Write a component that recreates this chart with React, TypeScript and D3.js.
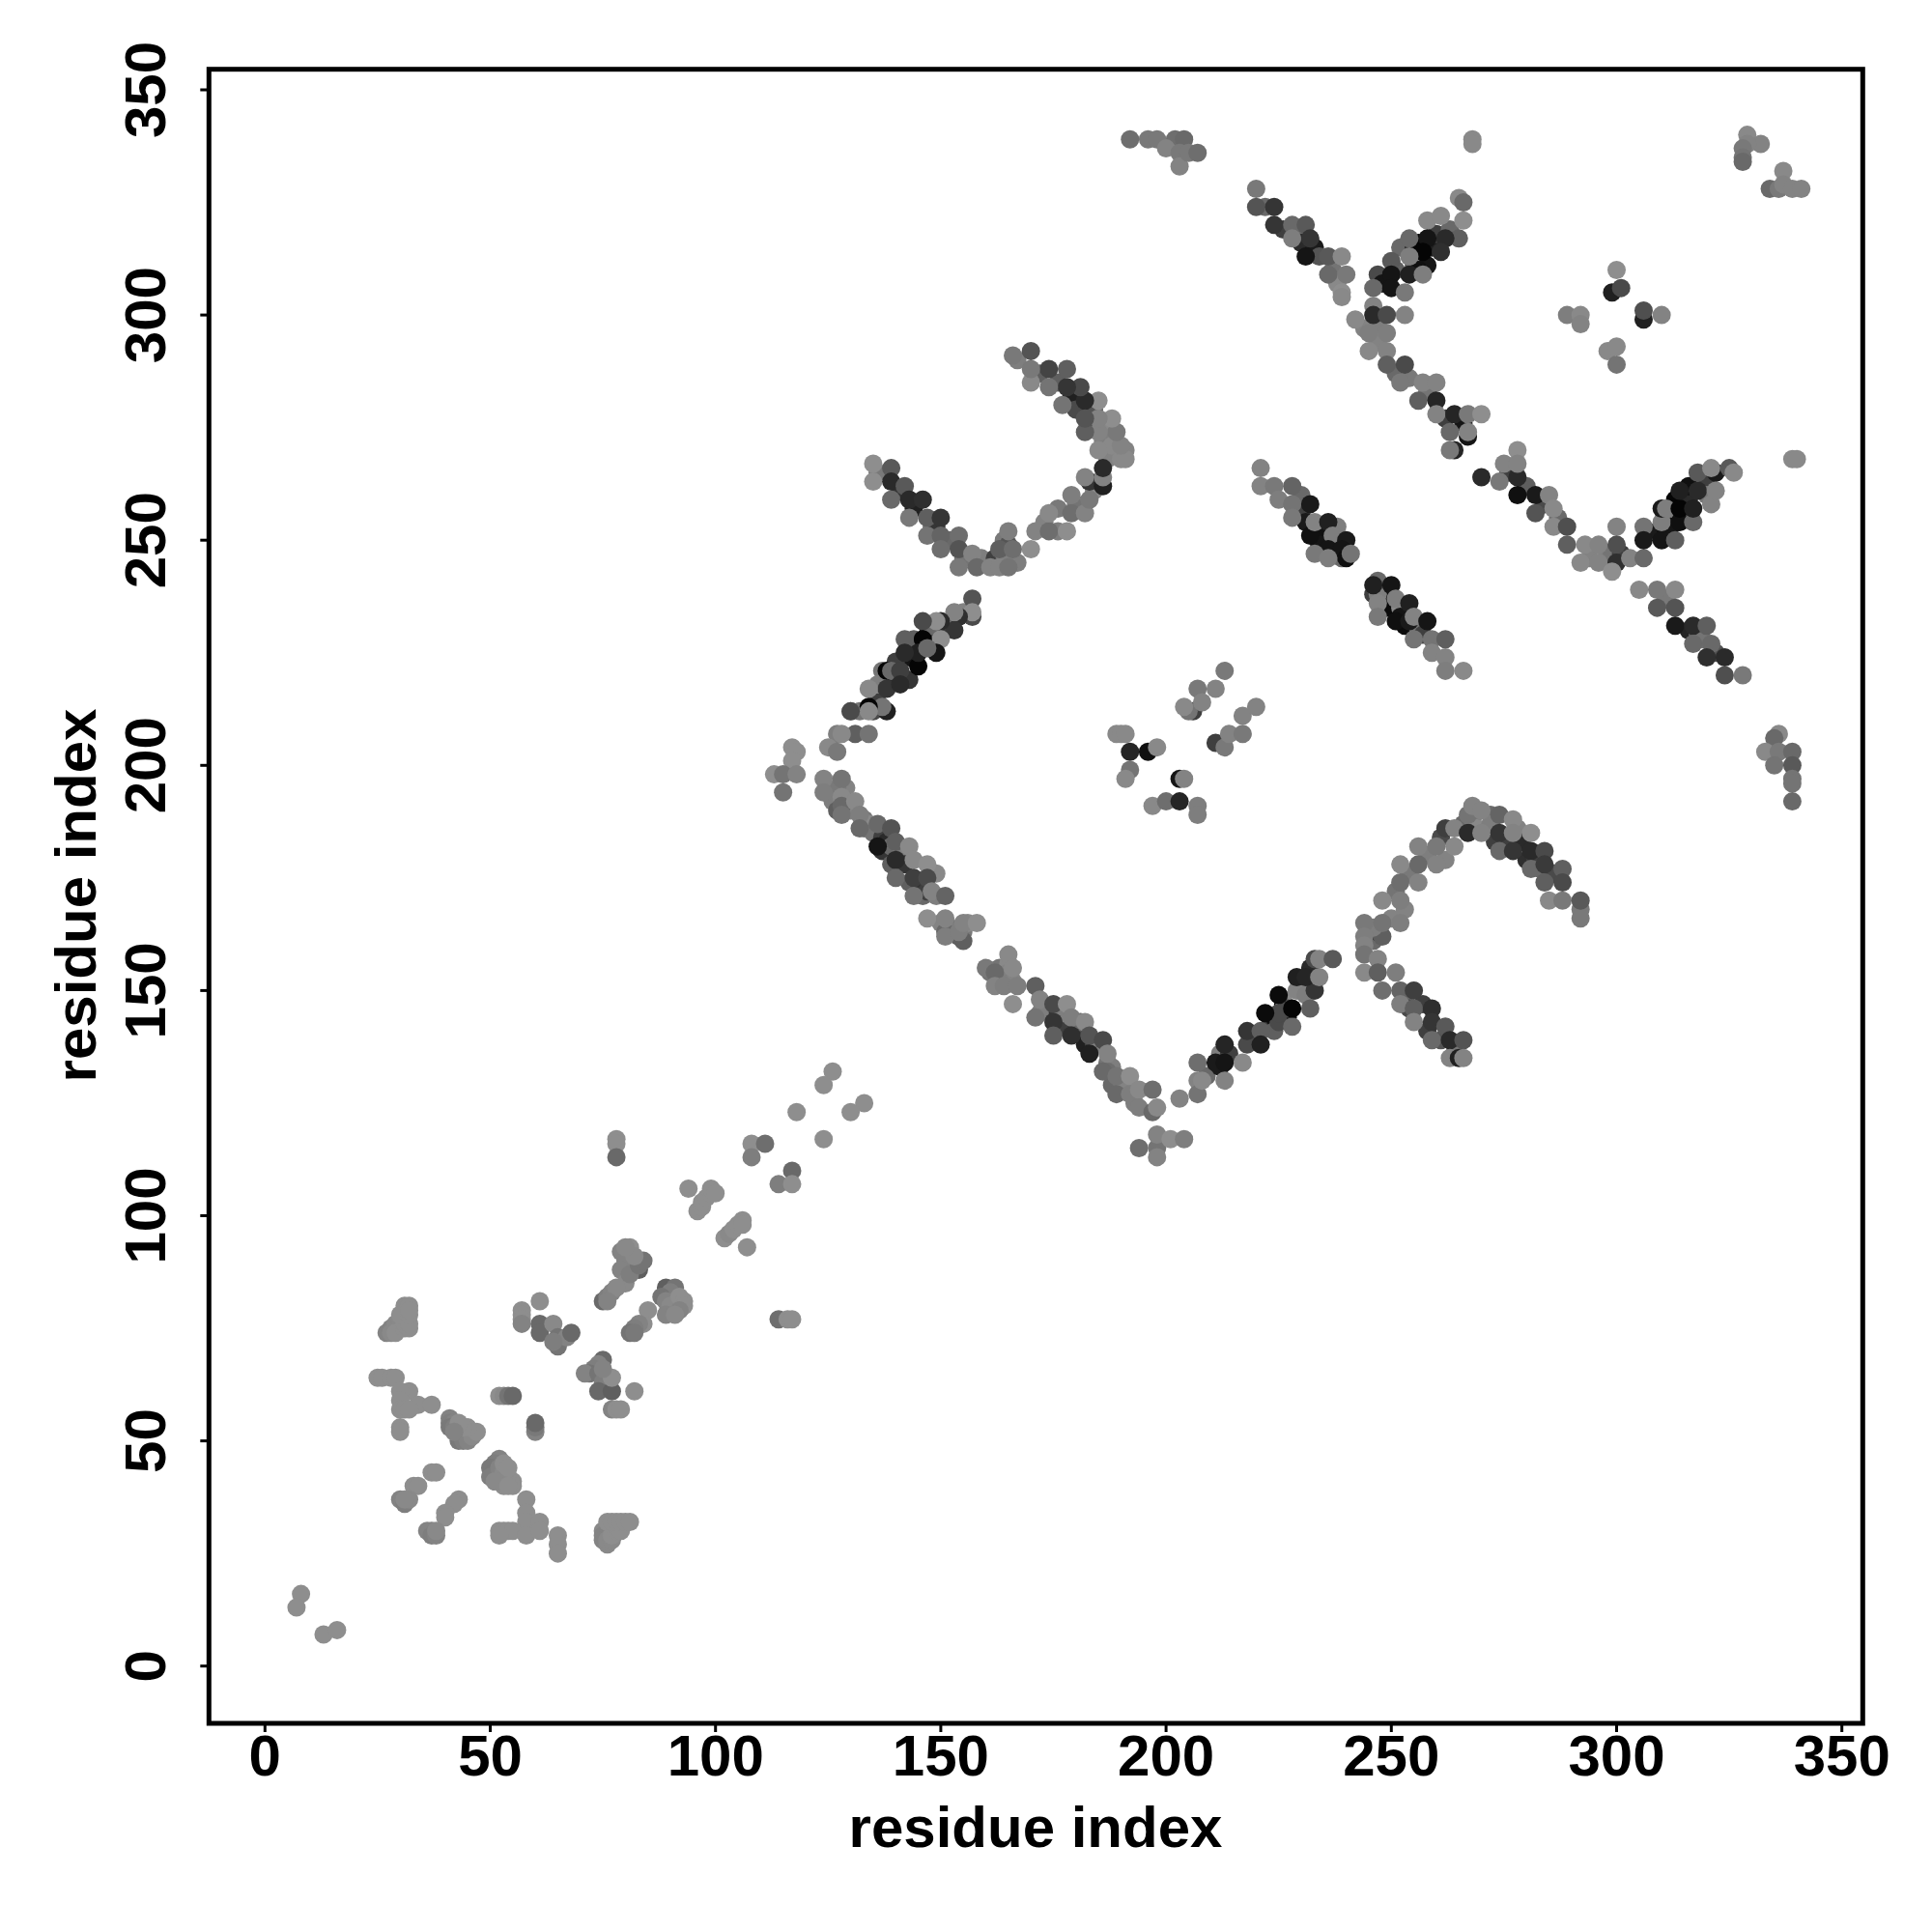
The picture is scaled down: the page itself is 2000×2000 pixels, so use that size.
import React from "react";
import * as d3 from "d3";

type Contact = [number, number, number]; // residue i, residue j, shade

const tickValues = [0, 50, 100, 150, 200, 250, 300, 350];
const axisTitle = "residue index";

const nTerminal: Contact[] = [[8,16,135],[7,13,135],[13,7,135],[16,8,135]];
const lowerCluster: Contact[] = [
[27,74,125],[28,75,125],[29,75,130],[29,76,130],[30,76,130],[30,77,130],[28,74,130],[29,74,135],[31,75,135],[31,76,135],[31,78,135],[31,79,135],[31,80,135],[30,78,135],[32,75,135],[32,76,135],[32,78,135],[32,80,135],[32,79,135],
[25,64,135],[26,64,135],[28,64,135],[29,64,135],[32,61,135],[30,61,135],[30,59,135],[30,57,135],[31,57,135],[34,58,135],[37,58,135],[30,53,135],[30,52,135],[32,57,135],
[41,55,125],[41,54,120],[42,54,125],[41,53,115],[42,53,120],[43,52,120],[44,51,125],[43,50,115],[44,50,120],[45,50,125],[46,51,130],[47,52,135],[45,53,135],[44,53,135],[43,54,135],[42,52,125],
[52,60,135],[53,60,130],[54,60,110],[55,60,100],[60,52,125],[60,53,115],[60,54,100],
[52,46,125],[51,45,120],[50,44,115],[51,43,115],[50,42,120],[52,44,125],[53,43,130],[54,42,130],[55,41,135],[55,40,135],[53,40,135],[52,41,130],[51,41,130],[54,40,135],[53,45,135],[54,44,135],
[58,37,135],[58,34,135],[58,32,135],[37,43,135],[38,43,135],[33,40,135],[34,40,135],[30,37,125],[31,36,120],[32,37,130],[31,37,130],[43,37,135],[42,36,135],[40,34,135],[40,33,135],[37,30,120],[36,30,125],[37,29,120],[38,29,125],[38,30,130],
[52,30,135],[53,30,135],[54,30,135],[55,30,135],[52,29,135],[58,29,135],[61,32,135],[61,30,135],[65,29,135],[65,27,135],[65,25,135],
[75,30,130],[75,29,125],[75,28,125],[76,27,130],[76,28,130],[77,28,130],[77,29,135],[78,30,135],[78,31,135],[79,30,135],[76,32,135],[77,32,135],[78,32,135],[79,32,135],[80,32,135],[81,32,135],
];
const middleCluster: Contact[] = [
[126,132,135],[124,129,135],[133,125,135],[130,123,135],[118,123,135],[124,117,135],[108,116,135],[111,116,105],[108,113,120],[117,110,100],[114,107,120],[117,107,135],
[78,117,135],[78,116,135],[78,113,100],[94,106,135],[96,101,135],[97,102,135],[97,103,135],[98,104,135],[99,105,135],[99,106,135],[100,105,135],
[102,95,135],[103,96,130],[104,97,135],[105,98,135],[106,99,135],[106,98,135],[107,93,135],[114,77,105],[116,77,135],[117,77,135],
[83,88,90],[79,92,125],[81,93,135],[80,90,125],[79,88,125],[80,85,130],[81,87,120],[83,89,110],[84,90,110],[82,91,130],[80,93,130],
[75,81,100],[76,82,120],[77,83,125],[78,84,130],[76,81,125],[61,81,135],[57,79,135],[57,78,135],[57,77,135],[57,76,125],
[61,76,100],[61,74,100],[64,76,130],[65,73,110],[65,71,110],[67,73,125],[64,72,120],[68,74,100],
[89,84,90],[91,84,110],[90,83,120],[88,82,110],[89,81,125],[90,80,130],[92,82,135],[93,81,135],[93,80,135],[92,79,125],[89,78,125],[91,78,130],[85,79,135],[84,76,135],[83,76,125],[82,75,120],[81,74,110],[82,74,115],
[75,68,100],[74,67,125],[73,66,120],[72,65,110],[71,65,125],[74,65,110],[75,63,120],[74,61,100],[77,61,90],[82,61,135],[77,57,125],[78,57,135],[79,57,135],[77,64,135],[75,66,125],
];
const risingBackfill: Contact[] = [
[135,212,70],[132,212,110],[136,214,60],[140,220,40],[143,224,20],[144,226,15],[147,229,30],[148,227,60],[151,231,60],[152,232,120],[148,231,100],[155,234,125],[144,228,90],[140,223,60],[143,219,50],[137,221,110],[136,218,120],
];
const risingArm: Contact[] = [
[157,237,80],[157,233,70],[157,234,135],[154,233,45],[153,234,125],[153,230,50],[150,232,40],[149,232,135],[146,232,70],[150,228,135],[149,225,20],[146,228,5],[142,228,90],[145,222,5],[145,225,30],[142,225,40],[147,226,100],[138,221,5],[139,221,100],[141,221,60],[138,217,50],[141,218,40],[134,217,130],[138,212,30],[137,213,110],[134,213,5],[134,212,130],[130,212,130],[130,212,70],[131,207,90],[134,207,110],[127,207,120],[128,207,130],[125,204,130],[127,203,115],
[117,204,135],[118,203,135],[117,201,135],[113,198,135],[115,198,110],[118,198,125],[115,194,110],
];
const fallingBackfill: Contact[] = [
[129,195,125],[127,195,115],[126,192,120],[127,190,90],[129,192,115],[130,190,125],[133,188,115],[133,186,110],[134,187,130],[135,185,110],[137,184,60],[138,183,40],[137,181,50],[139,182,100],[141,180,120],[142,178,50],[139,178,90],[143,174,90],[146,174,50],[149,176,130],[146,171,100],[147,172,60],[149,171,120],[150,165,125],[152,164,110],[153,163,120],[154,162,90],[155,163,115],[156,165,130],
[161,154,110],[163,155,110],[164,153,115],[165,156,130],[165,154,125],[166,152,125],[163,152,120],[173,146,90],[172,145,120],[176,145,50],[177,142,60],[177,145,120],[180,141,60],[181,143,100],[182,138,30],[184,138,60],[185,138,120],[187,134,110],[188,133,120],[190,130,125],[187,132,105],[188,129,100],[190,128,110],[191,129,125],[193,125,120],
];
const fallingArm: Contact[] = [
[124,197,125],[128,197,110],[124,194,120],[128,193,130],[128,191,100],[128,189,110],[131,192,130],[132,189,120],[132,186,100],[136,182,20],[136,187,100],[139,186,80],[140,183,90],[143,182,130],[140,179,40],[144,179,130],[147,178,135],[140,175,100],[144,175,60],[147,175,70],[144,171,110],[148,172,125],[151,171,95],[147,166,135],[151,163,100],[151,162,120],[151,166,125],[155,161,90],[154,163,120],[155,165,125],[158,165,135],
[160,155,115],[162,154,100],[165,158,130],[166,155,130],[162,151,125],[164,151,120],[167,151,120],[166,147,135],[171,151,90],[172,148,125],[171,144,110],[175,147,70],[175,143,50],[175,140,90],[178,147,135],[179,144,120],[182,143,130],[179,140,45],[183,140,80],[186,139,70],[183,136,30],[187,136,125],[186,132,100],[189,131,110],[192,131,135],[189,127,100],[192,127,120],[194,128,130],[194,124,120],[197,128,105],[197,123,100],[198,124,130],
[194,115,105],[198,115,110],[198,118,125],[198,113,125],[201,117,135],[204,117,120],
];
const centerCross: Contact[] = [
[189,207,130],[190,207,130],[191,207,130],[192,203,35],[192,199,110],[191,197,130],[196,203,15],[198,204,130],[203,197,20],[204,197,125],[197,191,130],[200,192,105],[203,192,35],[207,191,120],[207,189,120],
[213,221,115],[207,217,115],[211,217,125],[206,212,60],[205,212,110],[204,213,130],[208,214,125],[217,211,125],[211,205,60],[213,204,115],[214,207,125],[217,207,115],[220,213,125],
];
const vBackfill: Contact[] = [
[220,139,70],[223,142,60],[224,144,15],[226,147,5],[227,144,20],[224,141,90],[226,148,130],[227,146,70],[230,150,110],[232,155,40],[233,152,70],[209,131,100],[212,136,120],[212,133,25],[214,136,60],
];
const vArm: Contact[] = [
[203,126,125],[207,134,105],[207,130,125],[207,127,110],[208,130,130],[211,134,25],[213,138,35],[213,134,20],[213,130,125],[217,134,130],[218,138,70],[218,141,50],[221,141,90],[221,138,30],[225,143,70],[225,145,70],[222,145,10],[225,149,10],[228,142,100],[228,146,5],[229,150,125],[229,153,30],[231,149,120],[232,146,90],[233,150,50],[231,153,35],[234,153,125],[233,157,70],[234,157,125],[237,157,85],
];
const lowerHookBackfill: Contact[] = [
[245,163,110],[246,161,100],[247,163,40],[248,162,90],[246,164,120],[250,166,125],[253,168,125],[251,172,110],[254,176,115],[258,180,120],[262,179,125],[261,184,70],[266,187,100],[268,188,115],[269,186,130],[272,189,100],[272,187,120],[273,183,60],[276,183,60],[278,186,125],[279,183,40],[280,179,45],[282,179,60],[283,177,100],[286,176,70],[253,149,100],[254,146,70],[257,147,60],[258,141,60],[261,139,80],[264,136,110],
];
const lowerHook: Contact[] = [
[244,165,115],[244,162,120],[244,160,125],[244,158,110],[244,154,130],[247,157,125],[247,154,90],[251,154,120],[248,150,105],[252,150,95],[255,150,60],[252,147,120],[255,146,90],[255,143,125],[259,146,45],[259,143,50],[262,142,85],[259,139,100],[263,139,40],[266,139,80],[263,135,125],[265,135,30],[266,135,125],
[248,170,130],[248,165,110],[252,165,120],[252,170,120],[252,174,105],[256,174,125],[256,178,100],[252,178,130],[256,182,125],[260,178,125],[260,182,115],[262,186,60],[264,182,130],[264,186,125],[267,185,40],[267,189,110],[268,191,125],[270,190,125],[270,185,125],[274,189,95],[274,185,50],[274,181,100],[277,188,130],[277,181,50],[277,185,125],[281,181,40],[281,185,135],[284,181,70],[281,177,100],[284,178,55],[288,177,90],[284,174,90],[288,174,70],[285,170,130],[288,170,115],[292,168,115],[292,166,115],[292,170,85],
];
const upperHookBackfill: Contact[] = [
[136,265,115],[141,261,50],[144,257,30],[148,253,110],[149,253,50],[152,250,100],[155,246,110],[159,246,120],[162,246,60],[164,247,120],[164,250,115],[165,249,80],[167,245,120],[173,254,125],[176,252,120],[176,257,115],[180,258,120],[181,257,110],[184,261,130],[187,268,125],[188,272,115],[187,275,130],[184,279,80],[183,275,50],[180,283,40],[176,285,90],[179,282,30],[180,279,70],[172,287,90],[167,290,120],[186,272,120],[189,269,125],[188,271,130],
];
const upperHook: Contact[] = [
[135,267,135],[135,263,135],[139,266,85],[139,263,40],[139,259,100],[142,262,85],[143,259,40],[146,259,45],[143,255,115],[147,255,90],[150,255,50],[147,251,110],[150,251,95],[154,251,105],[150,248,105],[154,248,80],[157,247,125],[154,244,115],[158,244,100],[161,244,125],[163,244,125],[165,244,110],[163,248,90],[166,248,105],[165,252,120],[170,248,135],[171,252,125],[174,252,105],[178,252,135],[174,256,130],[179,256,105],[182,256,125],[179,260,120],[183,259,115],[183,263,50],[182,264,125],[186,262,30],[186,264,125],[186,266,40],[190,268,130],[191,270,125],[191,268,130],[190,271,125],[189,274,115],[188,277,135],[185,270,130],[185,274,125],[185,277,125],[185,281,135],[182,281,40],[181,284,70],[182,274,90],[182,277,80],[178,284,50],[178,288,90],[174,288,65],[174,284,110],[177,280,110],[166,291,115],[170,285,130],[170,288,115],[170,292,80],
];
const topFragments: Contact[] = [
[192,339,105],[196,339,115],[198,339,115],[202,339,105],[204,339,100],[200,337,125],[203,336,115],[203,333,125],[205,336,115],[207,336,105],[268,339,130],[268,338,130],
[329,340,130],[332,338,125],[329,338,125],[328,337,115],[328,335,110],[328,334,100],[337,332,130],[334,328,100],[336,328,115],[337,329,125],[339,328,125],[341,328,125],
];
const upperDiagonalBackfill: Contact[] = [
[222,324,100],[226,319,60],[229,318,100],[230,316,40],[233,315,25],[234,313,80],[237,310,110],[238,307,130],[247,309,70],[248,307,20],[251,310,90],[252,315,100],[255,315,40],[256,316,5],[255,311,90],[256,312,120],[258,311,20],[259,315,30],[260,318,60],[263,319,100],[256,310,15],[244,297,125],[247,298,120],[247,294,125],[251,287,100],[254,286,115],[258,283,110],[262,277,60],[266,276,20],
];
const upperDiagonal: Contact[] = [
[220,328,115],[220,324,80],[224,324,50],[224,320,50],[228,320,100],[231,320,85],[228,317,120],[232,317,50],[231,313,20],[236,313,85],[239,313,130],[236,309,100],[240,309,115],[239,305,135],[239,304,130],
[246,306,100],[250,312,85],[250,309,20],[250,306,20],[253,305,115],[246,302,125],[246,300,40],[242,299,130],[249,300,70],[253,300,125],[245,296,120],[249,296,120],[245,292,130],[249,292,125],[249,289,90],[253,289,70],[252,285,115],[257,285,125],[260,285,125],[256,281,90],[260,281,35],[260,278,125],[264,278,35],[267,278,115],[270,278,135],[263,274,100],[267,273,20],[267,274,125],[264,270,35],[263,270,115],
[258,321,130],[261,322,130],[265,326,130],[266,325,100],[266,321,135],[265,317,90],[262,317,40],[258,317,20],[254,317,100],[257,314,5],[261,314,45],[254,313,120],[254,309,30],[257,309,120],
];
const rightCross: Contact[] = [
[300,310,135],[299,305,30],[301,306,70],[289,300,120],[292,300,130],[292,298,125],[306,299,30],[306,301,75],[310,300,125],[298,292,130],[300,293,130],[300,289,110],
];
const strandsBackfill: Contact[] = [
[230,260,100],[230,256,60],[231,254,25],[234,252,15],[234,249,20],[238,253,120],[237,247,15],[238,250,110],[239,246,100],[246,238,60],[248,238,15],[247,238,120],[249,235,10],[252,235,130],[252,233,20],[253,231,10],[256,230,110],[257,229,60],
];
const middleStrands: Contact[] = [
[221,266,125],[221,262,125],[224,262,115],[225,259,120],[228,262,95],[228,258,110],[228,255,115],[232,258,25],[232,251,15],[233,254,125],[236,254,30],[237,251,120],[236,248,20],[233,247,115],[240,250,25],[239,248,20],[240,246,15],[236,246,120],[241,247,110],
[247,241,100],[246,240,30],[250,240,20],[251,232,15],[247,236,125],[251,237,120],[254,236,30],[254,232,25],[255,233,125],[258,232,20],[247,233,115],[255,228,110],[259,228,110],[262,228,90],[259,225,125],[262,224,125],[262,221,120],[266,221,130],
];
const rightBackfill: Contact[] = [
[309,252,25],[311,252,15],[312,256,120],[313,259,5],[315,255,100],[316,259,40],[319,262,120],[312,253,20],[316,262,15],[320,264,60],[320,260,110],[276,265,60],[280,262,90],[284,258,70],[287,255,100],[294,246,125],[298,247,120],[299,247,110],[301,247,60],[311,237,115],[316,230,35],[318,229,90],[319,228,110],[322,225,80],
];
const rightArms: Contact[] = [
[270,264,40],[275,267,125],[274,263,115],[278,270,135],[278,264,40],[278,267,125],[278,260,15],[282,260,25],[285,260,125],[282,256,80],[286,257,130],[286,253,130],[289,253,75],[289,249,90],[293,249,130],[292,245,130],[296,249,125],[296,245,125],[300,253,125],[300,249,75],[300,245,45],[299,243,135],[303,246,125],[306,246,100],[306,253,110],[306,250,25],[310,250,20],[313,250,90],[310,254,120],[314,254,15],[317,254,100],[310,257,25],[311,257,120],[314,257,5],[317,257,30],[321,258,125],[314,261,30],[318,261,40],[322,261,125],[318,265,85],[322,265,25],[321,266,130],[325,266,85],[326,265,130],[339,268,130],[340,268,130],
[305,239,130],[309,239,115],[313,239,130],[309,235,85],[313,235,80],[313,231,25],[317,231,40],[320,231,90],[317,227,100],[321,227,100],[320,224,45],[324,224,40],[324,220,75],[328,220,115],
[336,207,130],[335,206,100],[333,203,130],[336,203,115],[335,200,110],[339,203,100],[339,200,85],[339,197,110],[339,196,110],[339,192,100],
];

const contacts: Contact[] = [
  ...nTerminal, ...lowerCluster, ...middleCluster, ...risingBackfill, ...risingArm, ...fallingBackfill, ...fallingArm, ...centerCross,
  ...vBackfill, ...vArm, ...lowerHookBackfill, ...lowerHook, ...upperHookBackfill, ...upperHook, ...topFragments,
  ...upperDiagonalBackfill, ...upperDiagonal, ...rightCross, ...strandsBackfill, ...middleStrands, ...rightBackfill, ...rightArms,
];

const box = { left: 216.3, right: 1928.3, top: 71.7, bottom: 1784 };
const x = d3.scaleLinear().domain([0, 350]).range([274.3, 1906.7]);
const y = d3.scaleLinear().domain([0, 350]).range([1724.7, 93]);
const shade = d3.scaleLinear<string>().domain([0, 135]).range(["#000000", "#8e8e8e"]);
const font = "'Liberation Sans', Arial, sans-serif";

export default function App() {
  return (
    <svg width={2000} height={2000} style={{ position: "absolute", left: 0, top: 0, background: "#fff" }}>
      {contacts.map(([i, j, s], k) => (
        <circle key={k} cx={x(i)} cy={y(j)} r={9.5} fill={shade(s)} />
      ))}
      <rect x={box.left} y={box.top} width={box.right - box.left} height={box.bottom - box.top} fill="none" stroke="#000" strokeWidth={5} />
      {tickValues.map((t) => (
        <g key={t}>
          <line x1={x(t)} x2={x(t)} y1={box.bottom} y2={box.bottom + 9} stroke="#000" strokeWidth={3} />
          <text x={x(t)} y={1838} textAnchor="middle" fontFamily={font} fontWeight="bold" fontSize={60}>{t}</text>
          <line x1={box.left} x2={box.left - 9} y1={y(t)} y2={y(t)} stroke="#000" strokeWidth={3} />
          <text transform={`translate(171,${y(t)}) rotate(-90)`} textAnchor="middle" fontFamily={font} fontWeight="bold" fontSize={60}>{t}</text>
        </g>
      ))}
      <text x={1072} y={1912} textAnchor="middle" fontFamily={font} fontWeight="bold" fontSize={60}>{axisTitle}</text>
      <text transform={`translate(99,927) rotate(-90)`} textAnchor="middle" fontFamily={font} fontWeight="bold" fontSize={60}>{axisTitle}</text>
    </svg>
  );
}
